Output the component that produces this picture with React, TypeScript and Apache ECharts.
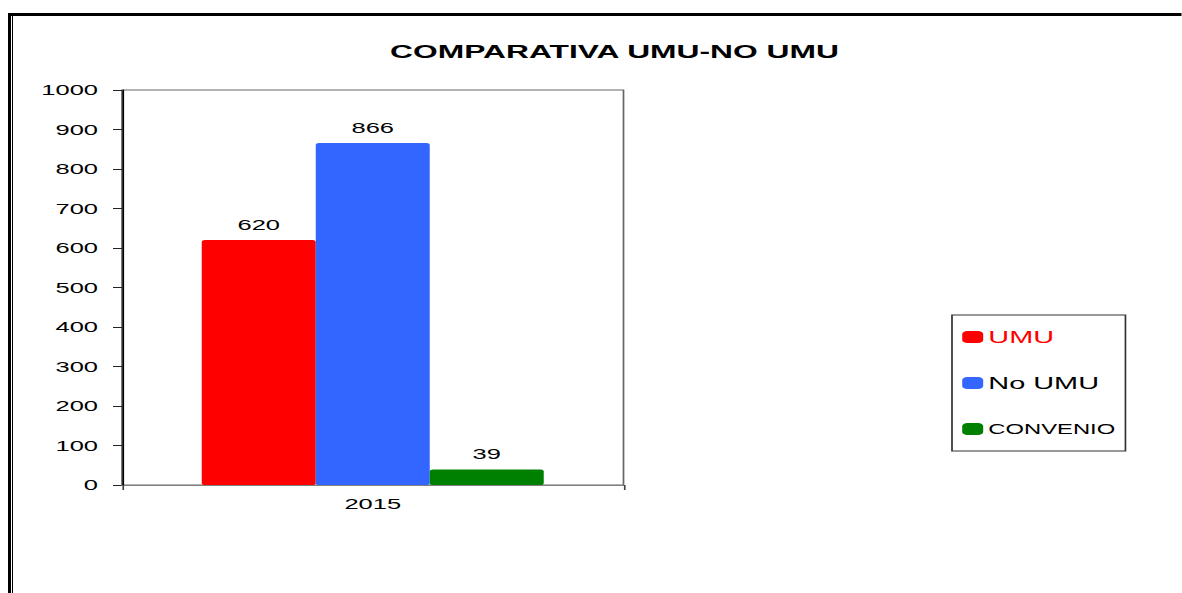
import React, { useEffect, useRef } from "react";
import * as echarts from "echarts";

const categories = ["2015"];
const seriesNames = ["UMU", "No UMU", "CONVENIO"];
const umuValues = [620];
const noUmuValues = [866];
const convenioValues = [39];
const yTicks = { min: 0, max: 1000, interval: 100 };

const S = 1.7; // horizontal stretch of the reference
const W = 1182 / S;
const H = 593;
const FONT = "'Liberation Sans', Arial, sans-serif";

export default function App() {
  const ref = useRef<HTMLDivElement>(null);
  useEffect(() => {
    if (!ref.current) return;
    const chart = echarts.init(ref.current, null, { renderer: "svg" });
    const label = {
      show: true,
      position: "top",
      distance: 8,
      fontSize: 15,
      color: "#000",
      fontFamily: FONT,
    };
    chart.setOption({
      animation: false,
      backgroundColor: "#fff",
      textStyle: { fontFamily: FONT },
      title: {
        text: "COMPARATIVA UMU-NO UMU",
        left: 606 / S,
        top: 37,
        textAlign: "center",
        textStyle: { fontSize: 18.7, fontWeight: "bold", color: "#000", fontFamily: FONT },
      },
      legend: {
        orient: "vertical",
        left: 952 / S,
        top: 315,
        padding: [12, 6, 12, 6],
        borderColor: "#333",
        borderWidth: 1,
        itemWidth: 21 / S,
        itemHeight: 12,
        itemGap: 26,
        icon: "roundRect",
        data: [
          { name: seriesNames[0], textStyle: { color: "#ff0000", fontSize: 17, lineHeight: 20 } },
          { name: seriesNames[1], textStyle: { color: "#000", fontSize: 17, lineHeight: 20 } },
          { name: seriesNames[2], textStyle: { color: "#000", fontSize: 14, lineHeight: 20 } },
        ],
        textStyle: { fontFamily: FONT, padding: [0, 0, 0, -2] },
      },
      grid: {
        left: 122 / S,
        right: W - 624 / S,
        top: 90,
        bottom: H - 485,
        show: true,
        borderColor: "#666",
        borderWidth: 1,
        backgroundColor: "transparent",
      },
      xAxis: {
        type: "category",
        data: categories,
        z: 5,
        axisLine: { lineStyle: { color: "#808080", width: 1 } },
        axisTick: { show: true, length: 5, lineStyle: { color: "#444" } },
        axisLabel: { fontSize: 15, color: "#000", margin: 11, fontFamily: FONT },
      },
      yAxis: {
        type: "value",
        min: yTicks.min,
        max: yTicks.max,
        interval: yTicks.interval,
        axisLine: { show: true, lineStyle: { color: "#000", width: 1 } },
        axisTick: { show: true, length: 9 / S, lineStyle: { color: "#222" } },
        axisLabel: {
          fontSize: 15,
          color: "#000",
          margin: 24 / S,
          fontFamily: FONT,
          formatter: (v: number) => String(v),
        },
        splitLine: { show: false },
      },
      series: [
        {
          name: seriesNames[0],
          type: "bar",
          data: umuValues,
          barWidth: 114 / S,
          barGap: "0%",
          itemStyle: { color: "#ff0000", borderRadius: 2 },
          label,
        },
        {
          name: seriesNames[1],
          type: "bar",
          data: noUmuValues,
          barWidth: 114 / S,
          barGap: "0%",
          itemStyle: { color: "#3366ff", borderRadius: 2 },
          label,
        },
        {
          name: seriesNames[2],
          type: "bar",
          data: convenioValues,
          barWidth: 114 / S,
          barGap: "0%",
          itemStyle: { color: "#008000", borderRadius: 2 },
          label,
        },
      ],
      graphic: [
        { type: "rect", shape: { x: 8 / S, y: 13, width: W, height: 3 }, style: { fill: "#000" } },
        { type: "rect", shape: { x: 8 / S, y: 13, width: 3 / S, height: H }, style: { fill: "#000" } },
        { type: "rect", shape: { x: 12 / S, y: 16, width: 1 / S, height: H }, style: { fill: "#000" } },
      ],
    });
    return () => chart.dispose();
  }, []);
  return (
    <div
      style={{
        position: "absolute",
        left: 0,
        top: 0,
        width: W,
        height: H,
        transform: `scaleX(${S})`,
        transformOrigin: "0 0",
      }}
    >
      <div ref={ref} style={{ width: W, height: H }} />
    </div>
  );
}
